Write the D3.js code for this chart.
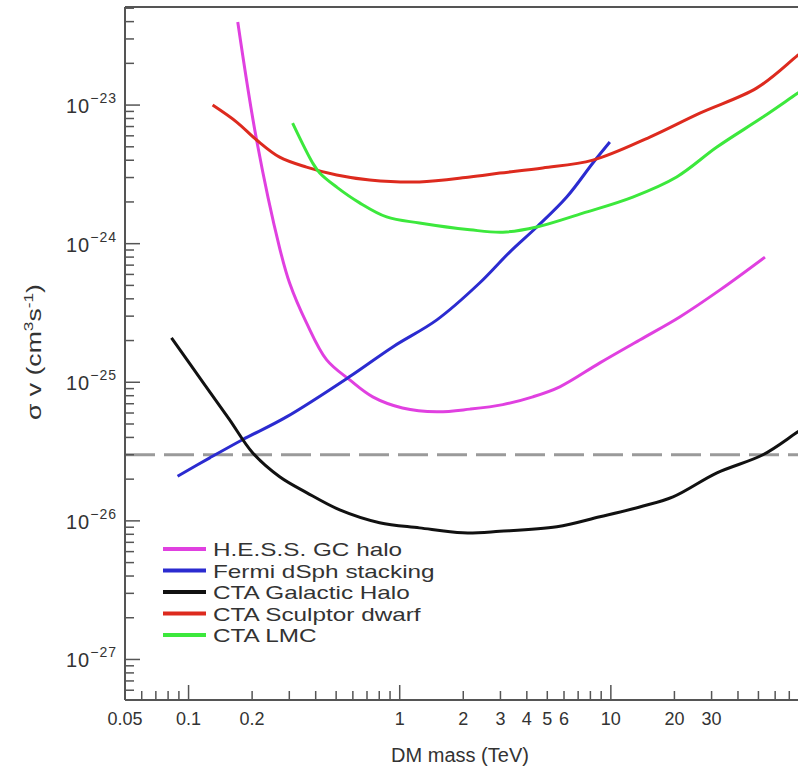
<!DOCTYPE html>
<html><head><meta charset="utf-8">
<script src="https://cdn.jsdelivr.net/npm/d3@7"></script>
<style>
body{margin:0;background:#fff;}
text{font-family:"Liberation Sans",Arial,sans-serif;fill:#333;}
</style></head>
<body><svg id="c" width="798" height="771"></svg>
<script>
// ---- data (mass in TeV, <sigma v> in cm^3 s^-1) ----
const hessX = [0.171,0.21,0.27,0.301,0.362,0.451,0.58,0.745,1.03,1.5,2.15,3.08,4.27,5.73,8.87,13.7,21.2,32.9,53.7];
const hessY = [3.98e-23,5.6e-24,9.3e-25,5.2e-25,2.68e-25,1.45e-25,1.04e-25,7.85e-26,6.53e-26,6.12e-26,6.4e-26,6.9e-26,7.85e-26,9.27e-26,1.38e-25,2.02e-25,2.96e-25,4.64e-25,8.0e-25];
const fermiX = [0.0887,0.126,0.18,0.291,0.58,0.927,1.5,2.39,3.32,4.46,6.18,8.22,9.89];
const fermiY = [2.1e-26,2.85e-26,3.85e-26,5.63e-26,1.10e-25,1.80e-25,2.82e-25,5.2e-25,8.7e-25,1.32e-24,2.17e-24,3.82e-24,5.41e-24];
const ghX = [0.083,0.117,0.156,0.201,0.27,0.362,0.52,0.803,1.24,1.99,2.98,5.55,8.87,13.7,19.7,31.8,52.5,76.9,100];
const ghY = [2.09e-25,1.0e-25,5.4e-26,3.1e-26,2.08e-26,1.6e-26,1.2e-26,9.7e-27,8.9e-27,8.2e-27,8.4e-27,9.06e-27,1.07e-26,1.26e-26,1.49e-26,2.22e-26,3.0e-26,4.39e-26,5.7e-26];
const sculX = [0.13,0.169,0.21,0.27,0.362,0.503,0.721,1.24,2.15,2.98,4.76,8.22,15.3,26.4,49.2,76.9,100];
const sculY = [1.0e-23,7.54e-24,5.6e-24,4.21e-24,3.57e-24,3.13e-24,2.88e-24,2.79e-24,3.03e-24,3.23e-24,3.52e-24,4.01e-24,5.88e-24,8.75e-24,1.33e-23,2.29e-23,3.2e-23];
const lmcX = [0.311,0.387,0.418,0.503,0.646,0.867,1.24,2.15,3.08,4.46,7.37,12.7,20.5,31.8,52.5,76.9,100];
const lmcY = [7.4e-24,3.82e-24,3.24e-24,2.56e-24,1.97e-24,1.56e-24,1.41e-24,1.26e-24,1.21e-24,1.32e-24,1.66e-24,2.17e-24,3.03e-24,4.98e-24,8.19e-24,1.22e-23,1.6e-23];
const thermal = 3e-26;
const seriesNames = ["H.E.S.S. GC halo","Fermi dSph stacking","CTA Galactic Halo","CTA Sculptor dwarf","CTA LMC"];
const seriesColors = ["#e040e0","#2b2bd0","#111111","#dd2a1e","#3ce83c"];
const xTickLabels = [0.05,0.1,0.2,1,2,3,4,5,6,10,20,30];
const yTickExps = [-27,-26,-25,-24,-23];

const svg = d3.select("#c");
const L=125, T=7, B=700, R=822;
const x = d3.scaleLog().domain([0.05,100]).range([L,R]);
const y = d3.scaleLog().domain([5.1e-28,5.1e-23]).range([B,T]);

svg.append("clipPath").attr("id","clip").append("rect").attr("x",L).attr("y",T).attr("width",R-L).attr("height",B-T);
const g = svg.append("g").attr("clip-path","url(#clip)");

// thermal line
g.append("line").attr("x1",L).attr("x2",R).attr("y1",y(thermal)).attr("y2",y(thermal))
 .attr("stroke","#9a9a9a").attr("stroke-width",3).attr("stroke-dasharray","30,9");

const line = d3.line().x(d=>x(d[0])).y(d=>y(d[1])).curve(d3.curveCatmullRom.alpha(0.5));
const sets = [[hessX,hessY],[fermiX,fermiY],[ghX,ghY],[sculX,sculY],[lmcX,lmcY]];
sets.forEach((s,i)=>{
  const pts = s[0].map((v,j)=>[v,s[1][j]]);
  g.append("path").datum(pts).attr("d",line).attr("fill","none")
   .attr("stroke",seriesColors[i]).attr("stroke-width",3).attr("stroke-linejoin","round");
});

// frame
const axc="#555";
svg.append("line").attr("x1",L).attr("x2",798).attr("y1",T).attr("y2",T).attr("stroke",axc).attr("stroke-width",2);
svg.append("line").attr("x1",L).attr("x2",L).attr("y1",T).attr("y2",B).attr("stroke",axc).attr("stroke-width",2);
svg.append("line").attr("x1",L).attr("x2",798).attr("y1",B).attr("y2",B).attr("stroke",axc).attr("stroke-width",2);

// x ticks (inside)
const xTicks = x.ticks(20);
xTicks.forEach(t=>{
  const major = Math.abs(Math.log10(t)-Math.round(Math.log10(t)))<1e-9;
  svg.append("line").attr("x1",x(t)).attr("x2",x(t)).attr("y1",B).attr("y2",B-(major?15:9))
     .attr("stroke",axc).attr("stroke-width",1.5);
});
xTickLabels.forEach(t=>{
  svg.append("text").attr("x",x(t)).attr("y",B+25).attr("text-anchor","middle")
    .attr("font-size",18).text(t);
});
// y ticks (inside)
const yTicks = y.ticks();
yTicks.forEach(t=>{
  const major = Math.abs(Math.log10(t)-Math.round(Math.log10(t)))<1e-9;
  svg.append("line").attr("x1",L).attr("x2",L+(major?15:9)).attr("y1",y(t)).attr("y2",y(t))
     .attr("stroke",axc).attr("stroke-width",1.5);
});
yTickExps.forEach(e=>{
  const t = svg.append("text").attr("x",117).attr("y",y(Math.pow(10,e))+8).attr("text-anchor","end").attr("font-size",20).attr("letter-spacing",1);
  t.append("tspan").text("10");
  t.append("tspan").attr("dy",-10).attr("font-size",14).text("\u2212"+(-e));
});

// axis titles
svg.append("text").attr("x",460).attr("y",762).attr("text-anchor","middle").attr("font-size",20).text("DM mass (TeV)");
const yl = svg.append("text").attr("transform","translate(41,352) rotate(-90) scale(1.33,1)").attr("text-anchor","middle").attr("font-size",20);
yl.append("tspan").text("\u03c3 v (cm");
yl.append("tspan").attr("dy",-8).attr("font-size",13).text("3");
yl.append("tspan").attr("dy",8).text("s");
yl.append("tspan").attr("dy",-8).attr("font-size",13).text("-1");
yl.append("tspan").attr("dy",8).text(")");

// legend
const ly0=549, ldy=21.5;
seriesNames.forEach((n,i)=>{
  const yy=ly0+i*ldy;
  svg.append("line").attr("x1",163).attr("x2",206).attr("y1",yy).attr("y2",yy)
    .attr("stroke",seriesColors[i]).attr("stroke-width",4);
  svg.append("text").attr("transform",`translate(213,${yy+7}) scale(1.28,1)`).attr("font-size",19).text(n);
});
</script></body></html>
